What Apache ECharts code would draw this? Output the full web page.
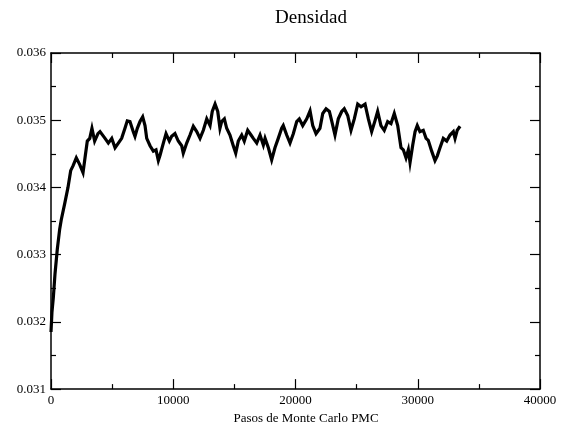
<!DOCTYPE html>
<html>
<head>
<meta charset="utf-8">
<script src="https://cdn.jsdelivr.net/npm/echarts@6/dist/echarts.min.js"></script>
<style>
html,body{margin:0;padding:0;background:#fff;}
#chart{width:563px;height:430px;}
</style>
</head>
<body>
<div id="chart"></div>
<script>
const chartTitle = "Densidad";
const xAxisName = "Pasos de Monte Carlo PMC";
const steps = [0,80,190,330,515,710,840,1120,1390,1610,1800,2070,2350,2620,2810,2970,3170,3350,3570,3840,
4010,4420,4690,4970,5240,5510,5780,6050,6240,6460,6730,6870,7060,7280,7500,7690,7830,8100,8370,8590,
8780,8920,9190,9410,9680,9870,10140,10410,10690,10820,11100,11370,11640,11920,12190,12460,12740,13010,13190,13420,
13640,13820,13960,14180,14370,14640,14910,15110,15320,15600,15810,16090,16360,16550,16830,17100,17370,17510,17780,18050,
18320,18590,18870,19000,19280,19550,19820,20100,20310,20590,20920,21190,21410,21680,22000,22230,22500,22770,22960,23230,
23500,23780,23990,24270,24540,24810,25090,25360,25690,25960,26230,26500,26720,26990,27260,27540,27810,28080,28360,28630,
28820,29040,29230,29370,29590,29780,29960,30180,30450,30680,30860,31140,31410,31600,31820,32090,32370,32640,32910,33050,
33230,33460];
const density = [0.03185,0.03215,0.03236,0.03272,0.03308,0.03338,0.03352,0.03376,0.03400,0.03425,0.03432,0.03444,0.03434,0.03422,0.03448,0.03469,0.03473,0.03488,0.03469,0.03480,
0.03483,0.03473,0.03466,0.03473,0.03459,0.03466,0.03473,0.03488,0.03499,0.03498,0.03483,0.03476,0.03488,0.03498,0.03505,0.03492,0.03473,0.03462,0.03454,0.03456,
0.03440,0.03448,0.03466,0.03480,0.03469,0.03476,0.03480,0.03469,0.03462,0.03451,0.03466,0.03478,0.03491,0.03483,0.03473,0.03485,0.03502,0.03492,0.03513,0.03524,
0.03513,0.03488,0.03498,0.03502,0.03488,0.03478,0.03462,0.03451,0.03469,0.03478,0.03469,0.03485,0.03478,0.03473,0.03466,0.03478,0.03463,0.03473,0.03459,0.03441,
0.03459,0.03473,0.03488,0.03492,0.03478,0.03466,0.03480,0.03498,0.03502,0.03492,0.03502,0.03514,0.03492,0.03480,0.03488,0.03510,0.03517,0.03513,0.03499,0.03478,
0.03502,0.03513,0.03517,0.03507,0.03485,0.03502,0.03524,0.03520,0.03524,0.03502,0.03483,0.03499,0.03513,0.03492,0.03485,0.03498,0.03495,0.03510,0.03492,0.03459,
0.03456,0.03444,0.03456,0.03437,0.03463,0.03483,0.03492,0.03483,0.03485,0.03473,0.03470,0.03454,0.03440,0.03447,0.03459,0.03473,0.03469,0.03478,0.03483,0.03473,
0.03485,0.03491];
const xTicks = {min:0, max:40000, interval:10000};
const yTicks = {min:0.031, max:0.036, interval:0.001};

const font = "'Liberation Serif', 'Times New Roman', serif";
const chart = echarts.init(document.getElementById('chart'), null, {renderer:'canvas'});
const axisCommon = (showLabel, fmt) => ({
  type:'value',
  splitLine:{show:false},
  axisLine:{show:true, onZero:false, lineStyle:{color:'#000', width:1.5}},
  axisTick:{show:true, inside:true, length:10, lineStyle:{color:'#000', width:1.2}},
  minorTick:{show:true, splitNumber:2, length:5, lineStyle:{color:'#000', width:1.2}},
  minorSplitLine:{show:false},
  axisLabel:{show:showLabel, color:'#000', fontFamily:font, fontSize:13, margin:5, formatter:fmt}
});
const option = {
  animation:false,
  backgroundColor:'#fff',
  title:{text:chartTitle, left:306, top:4, textAlign:'center',
    textStyle:{fontFamily:font, fontWeight:'normal', fontSize:19, color:'#000'}},
  grid:{left:51, right:23, top:53, bottom:34, containLabel:false},
  xAxis:[
    Object.assign(axisCommon(true, v => String(v)), {min:xTicks.min, max:xTicks.max, interval:xTicks.interval, position:'bottom',
      name:xAxisName, nameLocation:'middle', nameGap:21,
      nameTextStyle:{fontFamily:font, fontSize:13, color:'#000', padding:[0,0,0,21]}}),
    Object.assign(axisCommon(false), {min:xTicks.min, max:xTicks.max, interval:xTicks.interval, position:'top'})
  ],
  yAxis:[
    Object.assign(axisCommon(true, v => v.toFixed(3)), {min:yTicks.min, max:yTicks.max, interval:yTicks.interval, position:'left'}),
    Object.assign(axisCommon(false), {min:yTicks.min, max:yTicks.max, interval:yTicks.interval, position:'right'})
  ],
  series:[{
    type:'line', xAxisIndex:0, yAxisIndex:0, showSymbol:false, symbol:'none',
    lineStyle:{color:'#000', width:3.2, join:'miter'},
    data: steps.map((s,i)=>[s, density[i]])
  }]
};
chart.setOption(option);
</script>
</body>
</html>
